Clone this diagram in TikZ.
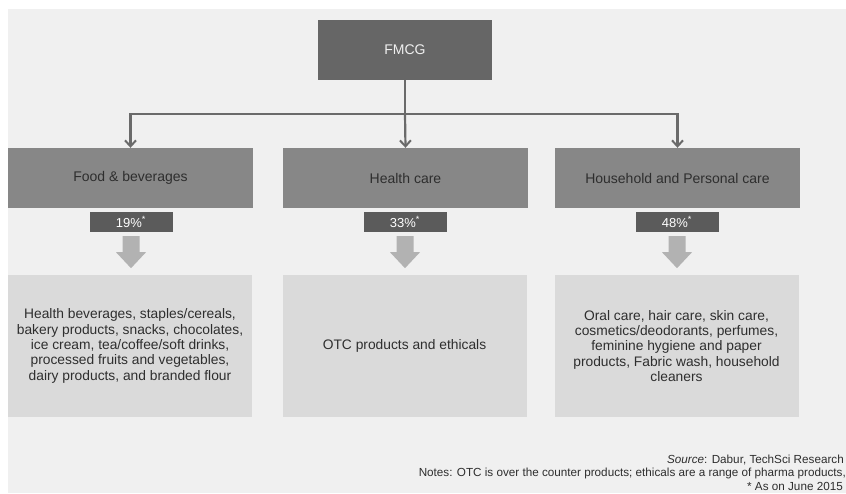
\documentclass[tikz,border=0pt]{standalone}
\usepackage{fontspec}
\setmainfont{Liberation Sans}
\usetikzlibrary{arrows.meta,calc}

\definecolor{canvas}{HTML}{F0F0F0}
\definecolor{topbox}{HTML}{666666}
\definecolor{catbox}{HTML}{878787}
\definecolor{pctbox}{HTML}{5B5B5B}
\definecolor{blockgray}{HTML}{B2B2B2}
\definecolor{itembox}{HTML}{DADADA}
\definecolor{linkgray}{HTML}{6A6A6A}
\definecolor{darktext}{HTML}{2E2E2E}

\tikzset{
  rootbox/.style={fill=topbox, minimum width=174pt, minimum height=60pt,
    inner sep=0pt, text=canvas, font=\fontsize{14}{16}\selectfont},
  catnode/.style={fill=catbox, minimum width=245pt, minimum height=60pt,
    inner sep=0pt, text=darktext, font=\fontsize{14}{16}\selectfont},
  pctnode/.style={fill=pctbox, minimum width=83pt, minimum height=20pt,
    inner sep=0pt, text=white, font=\fontsize{13}{15}\selectfont},
  itemnode/.style={fill=itembox, minimum width=244pt, minimum height=142pt,
    inner sep=0pt, align=center, text=darktext,
    font=\fontsize{13.8}{15.4}\selectfont},
  link/.style={draw=linkgray, line width=2.2pt,
    -{Straight Barb[length=6pt,width=11pt,line width=2pt]}},
  blockarrow/.style={fill=blockgray},
  footnote/.style={anchor=east, inner sep=0pt, text=darktext,
    font=\fontsize{11.7}{13.5}\selectfont},
}

\begin{document}
\begin{tikzpicture}[x=1pt,y=-1pt]
  % page and light canvas
  \useasboundingbox (0,0) rectangle (846,493);
  \fill[white] (0,0) rectangle (846,493);
  \fill[canvas] (8,9) rectangle (846,493);

  % root
  \node[rootbox] (root) at (405,50) {FMCG};

  % categories
  \node[catnode] (food)  at (130.5,178) {Food \& beverages};
  \node[catnode] (health) at (405.5,178) {Health care};
  \node[catnode] (home)  at (677.5,178) {Household and Personal care};

  % shares
  \node[pctnode] (pfood)   at (131,222) {19\%\textsuperscript{*}};
  \node[pctnode] (phealth) at (405,222) {33\%\textsuperscript{*}};
  \node[pctnode] (phome)   at (677,222) {48\%\textsuperscript{*}};

  % product lists
  \node[itemnode] (ifood) at (130,346) {Health beverages, staples/cereals,\\
    bakery products, snacks, chocolates,\\ ice cream, tea/coffee/soft drinks,\\
    processed fruits and vegetables,\\ dairy products, and branded flour};
  \node[itemnode] (ihealth) at (404.5,346) {OTC products and ethicals};
  \node[itemnode] (ihome) at (676.5,346) {Oral care, hair care, skin care,\\
    cosmetics/deodorants, perfumes,\\ feminine hygiene and paper\\
    products, Fabric wash, household\\ cleaners};

  % tree connectors
  \coordinate (bus) at (405,114);
  \draw[draw=linkgray, line width=2.2pt] (root.south) -- (bus);
  \draw[link] (bus) -| (food.north);
  \draw[link] (bus) -- (health.north);
  \draw[link] (bus) -| (home.north);

  % block arrows from shares to lists
  \foreach \p in {pfood, phealth, phome}{
    \fill[blockarrow]
      ($(\p.south)+(-8.5,4)$) -- ($(\p.south)+(8.5,4)$) --
      ($(\p.south)+(8.5,20)$) -- ($(\p.south)+(15,20)$) --
      ($(\p.south)+(0,36)$) -- ($(\p.south)+(-15,20)$) --
      ($(\p.south)+(-8.5,20)$) -- cycle;
  }

  % notes
  \node[footnote] (src) at (844,460) {\textit{Source}: Dabur, TechSci Research};
  \node[footnote] (notes) at (846,473.3) {Notes: OTC is over the counter products; ethicals are a range of pharma products,};
  \node[footnote] (asof) at (843,486.7) {* As on June 2015};
\end{tikzpicture}
\end{document}
